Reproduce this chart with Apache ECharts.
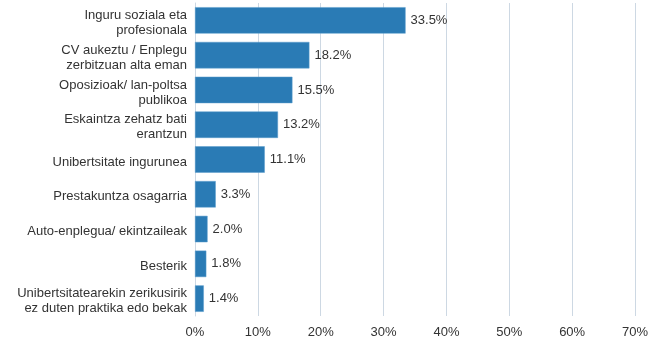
<!DOCTYPE html>
<html><head><meta charset="utf-8">
<script src="https://cdn.jsdelivr.net/npm/echarts@6/dist/echarts.min.js"></script>
<style>html,body{margin:0;padding:0;background:#fff}#c{width:662px;height:342px}</style>
</head><body><div id="c"></div>
<script>
const categories = [
  "Inguru soziala eta\nprofesionala",
  "CV aukeztu / Enplegu\nzerbitzuan alta eman",
  "Oposizioak/ lan-poltsa\npublikoa",
  "Eskaintza zehatz bati\nerantzun",
  "Unibertsitate ingurunea",
  "Prestakuntza osagarria",
  "Auto-enplegua/ ekintzaileak",
  "Besterik",
  "Unibertsitatearekin zerikusirik\nez duten praktika edo bekak"
];
const values = [33.5, 18.2, 15.5, 13.2, 11.1, 3.3, 2.0, 1.8, 1.4];
const xTicks = [0, 10, 20, 30, 40, 50, 60, 70];

const chart = echarts.init(document.getElementById('c'), null, {renderer: 'canvas'});
chart.setOption({
  animation: false,
  grid: {left: 195, right: 27, top: 3, bottom: 26, containLabel: false},
  xAxis: {
    type: 'value', min: xTicks[0], max: xTicks[xTicks.length - 1], interval: 10,
    axisLine: {show: false}, axisTick: {show: false},
    splitLine: {show: true, lineStyle: {color: '#cdd8e3', width: 1}},
    axisLabel: {formatter: v => v + '%', color: '#333', fontSize: 13, fontFamily: 'Liberation Sans, Arial', margin: 10}
  },
  yAxis: {
    type: 'category', inverse: true, data: categories,
    axisLine: {show: true, lineStyle: {color: '#cdd8e3'}}, axisTick: {show: false},
    axisLabel: {
      align: 'right', margin: 8,
      formatter: v => '{s| }\n' + v.split('\n').map(l => '{a|' + l + '}').join('\n'),
      rich: {
        s: {fontSize: 1, lineHeight: 5, height: 5},
        a: {color: '#333', fontSize: 13, fontFamily: 'Liberation Sans, Arial', lineHeight: 15, align: 'right'}
      }
    }
  },
  series: [{
    type: 'bar', data: values, barCategoryGap: '24%',
    itemStyle: {color: '#2a7bb5', borderColor: '#5a9ccc', borderWidth: 0.5},
    label: {show: true, position: 'right', distance: 5, formatter: p => p.value.toFixed(1) + '%',
      color: '#333', fontSize: 13, fontFamily: 'Liberation Sans, Arial'}
  }]
});
</script></body></html>
